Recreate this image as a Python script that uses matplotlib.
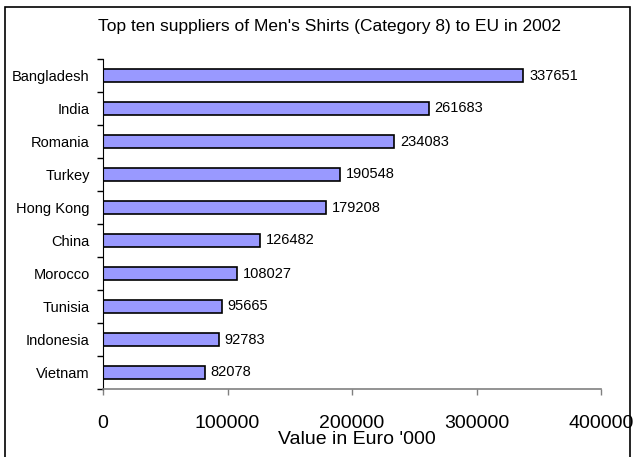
import matplotlib
matplotlib.use("Agg")
import matplotlib.pyplot as plt
from matplotlib.patches import Rectangle
import numpy as np

plt.rcParams['font.family'] = ['Liberation Sans', 'DejaVu Sans']

countries = ['Bangladesh', 'India', 'Romania', 'Turkey', 'Hong Kong',
             'China', 'Morocco', 'Tunisia', 'Indonesia', 'Vietnam']
values = [337651, 261683, 234083, 190548, 179208,
          126482, 108027, 95665, 92783, 82078]
xticks = [0, 100000, 200000, 300000, 400000]

fig = plt.figure(figsize=(6.33, 4.57), dpi=100)
# axes spans px 103..601 horizontally, 59..389 vertically
ax = fig.add_axes([103 / 633, 1 - 389 / 457, 498 / 633, 330 / 457])

y = np.arange(len(countries))
ax.barh(y, values, height=0.4, color='#9999FF', edgecolor='black', linewidth=1.2)
for yi, v in zip(y, values):
    ax.text(v + 4500, yi, str(v), va='center', ha='left', fontsize=10.5)

ax.set_ylim(len(countries) - 0.5, -0.5)
ax.set_xlim(0, 400000)
ax.set_yticks(y)
ax.set_yticklabels(countries, fontsize=10.5)
ax.set_yticks(np.arange(len(countries) + 1) - 0.5, minor=True)
ax.tick_params(axis='y', which='major', length=0, pad=9.5)
ax.tick_params(axis='y', which='minor', length=4.5, width=1, color='black')

ax.set_xticks(xticks)
ax.set_xticklabels([str(t) for t in xticks], fontsize=14)
ax.tick_params(axis='x', length=4.5, width=1, color='#808080', pad=14)
ax.set_xlabel("Value in Euro '000", fontsize=14)
ax.xaxis.set_label_coords(0.51, -0.128)
ax.xaxis.label.set_va('top')

for s in ['top', 'right']:
    ax.spines[s].set_visible(False)
ax.spines['bottom'].set_color('#808080')
ax.spines['bottom'].set_linewidth(1.2)
ax.spines['left'].set_color('black')

fig.text(329 / 633, 1 - 31 / 457, "Top ten suppliers of Men's Shirts (Category 8) to EU in 2002",
         ha='center', va='baseline', fontsize=12.5)

fig.patches.append(Rectangle((5 / 633, -0.01), 625 / 633, 1 - 7 / 457 + 0.01,
                             transform=fig.transFigure, fill=False,
                             edgecolor='black', linewidth=1.2))

fig.savefig('out.png', dpi=100)
